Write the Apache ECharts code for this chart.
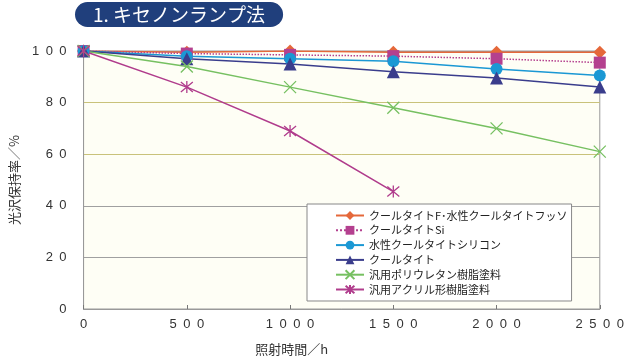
<!DOCTYPE html>
<html>
<head>
<meta charset="utf-8">
<script src="https://cdn.jsdelivr.net/npm/echarts@6/dist/echarts.min.js"></script>
<style>
  html, body { margin: 0; padding: 0; background: #fff; }
  #chart { width: 627px; height: 361px; }
</style>
</head>
<body>
<div id="chart"></div>
<script>
// 照射時間 (h)
var hours = [0, 500, 1000, 1500, 2000, 2500];
// 光沢保持率 (%)
var fluoro = [100, 99.5, 100, 99.5, 99.5, 99.5];
var silicone = [100, 99, 98.5, 98, 97, 95.5];
var waterSilicone = [100, 98, 97, 96, 93, 90.5];
var coolTite = [100, 97, 95, 92, 89.5, 86];
var urethane = [100, 94, 86, 78, 70, 61];
var acrylic = [100, 86, 69, 45.5];

var names = [
  'クールタイトF･水性クールタイトフッソ',
  'クールタイトSi',
  '水性クールタイトシリコン',
  'クールタイト',
  '汎用ポリウレタン樹脂塗料',
  '汎用アクリル形樹脂塗料'
];
var yTicks = [0, 20, 40, 60, 80, 100];

var crossPath = 'path://M0,0L10,10M10,0L0,10';
var starPath = 'path://M0,0L10,10M10,0L0,10M5,-1L5,11';

function pairs(vals) {
  return vals.map(function (v, i) { return [hours[i], v]; });
}
function spaced(v) {
  return String(v).split('').join('\u2002');
}

var chart = echarts.init(document.getElementById('chart'));

var series = [
  { data: fluoro, color: '#e5683a', symbol: 'diamond', size: 13 },
  { data: silicone, color: '#b4408f', symbol: 'rect', size: 12, dash: 'dotted' },
  { data: waterSilicone, color: '#1b98d4', symbol: 'circle', size: 12 },
  { data: coolTite, color: '#3a3d8c', symbol: 'triangle', size: 13 },
  { data: urethane, color: '#76c061', symbol: crossPath, size: 12, hollow: true },
  { data: acrylic, color: '#b03c8c', symbol: starPath, size: 12, hollow: true }
].map(function (s, i) {
  return {
    name: names[i],
    type: 'line',
    data: pairs(s.data),
    symbol: s.symbol,
    symbolSize: s.size,
    showAllSymbol: true,
    lineStyle: { color: s.color, width: 1.5, type: s.dash || 'solid' },
    itemStyle: s.hollow
      ? { color: 'rgba(0,0,0,0)', borderColor: s.color, borderWidth: 1.3 }
      : { color: s.color, borderWidth: 0 },
    emphasis: { disabled: true },
    animation: false
  };
});

chart.setOption({
  animation: false,
  title: {
    text: '1. キセノンランプ法',
    left: 75,
    top: 2,
    padding: [3, 18],
    backgroundColor: '#203f7c',
    borderRadius: 14,
    textStyle: {
      color: '#fff',
      fontSize: 19,
      fontWeight: 'normal',
      fontFamily: 'Noto Sans CJK JP'
    }
  },
  grid: {
    left: 79,
    right: 26,
    top: 51,
    bottom: 49,
    show: true,
    backgroundColor: '#fefef5',
    borderColor: '#9a9a9a',
    borderWidth: 1
  },
  legend: {
    orient: 'vertical',
    left: 307,
    top: 204,
    padding: [6, 4, 6, 28],
    itemGap: 3.8,
    itemWidth: 28,
    itemHeight: 11,
    backgroundColor: '#fff',
    borderColor: '#888',
    borderWidth: 1,
    textStyle: { fontSize: 11, color: '#222', fontFamily: 'Noto Sans CJK JP' },
    data: names
  },
  xAxis: {
    type: 'value',
    min: 0,
    max: 2500,
    interval: 500,
    name: '照射時間／h',
    nameLocation: 'middle',
    nameGap: 34,
    nameTextStyle: {
      fontSize: 13,
      color: '#333',
      fontFamily: 'Noto Sans CJK JP',
      padding: [0, 100, 0, 0]
    },
    axisLine: { show: true, lineStyle: { color: '#999' } },
    axisTick: { show: true, inside: true, length: 4, lineStyle: { color: '#777' } },
    splitLine: { show: false },
    axisLabel: {
      margin: 9,
      fontSize: 13,
      color: '#333',
      fontFamily: 'Liberation Sans',
      formatter: spaced
    }
  },
  yAxis: {
    type: 'value',
    min: yTicks[0],
    max: yTicks[yTicks.length - 1],
    interval: 20,
    name: '光沢保持率／%',
    nameLocation: 'middle',
    nameGap: 57,
    nameTextStyle: { fontSize: 13, color: '#333', fontFamily: 'Noto Sans CJK JP' },
    axisLine: { show: true, lineStyle: { color: '#999' } },
    axisTick: { show: false },
    splitLine: {
      show: true,
      lineStyle: {
        color: ['#9a9a9a', '#a0a0a0', '#a0a0a0', '#c9c27a', '#c9c27a', '#9a9a9a'],
        width: 1
      }
    },
    axisLabel: {
      margin: 17,
      fontSize: 13,
      color: '#333',
      fontFamily: 'Liberation Sans',
      formatter: spaced
    }
  },
  series: series
});
</script>
</body>
</html>
